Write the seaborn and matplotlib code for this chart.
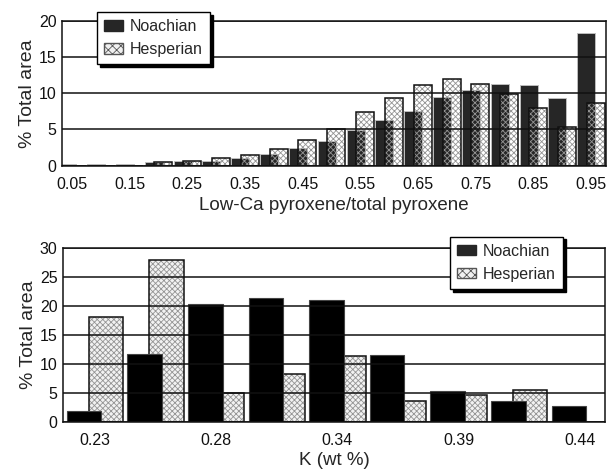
import numpy as np
import pandas as pd
import matplotlib
matplotlib.use("Agg")
import matplotlib.pyplot as plt
import seaborn as sns
from matplotlib.patches import Patch

# ---------------- data ----------------
pyx_bins = [0.05, 0.10, 0.15, 0.20, 0.25, 0.30, 0.35, 0.40, 0.45, 0.50,
            0.55, 0.60, 0.65, 0.70, 0.75, 0.80, 0.85, 0.90, 0.95]
pyx_noachian = [0.25, 0.25, 0.25, 0.5, 0.65, 0.65, 1.1, 1.6, 2.5, 3.4,
                4.9, 6.3, 7.6, 9.5, 10.5, 11.25, 11.1, 9.3, 18.25]
pyx_hesperian = [0.0, 0.0, 0.0, 0.5, 0.7, 1.0, 1.45, 2.3, 3.6, 5.0,
                 7.4, 9.4, 11.1, 11.9, 11.2, 9.9, 8.0, 5.4, 8.7]
pyx_tick_values = [0.05, 0.15, 0.25, 0.35, 0.45, 0.55, 0.65, 0.75, 0.85, 0.95]
pyx_tick_labels = ["0.05", "0.15", "0.25", "0.35", "0.45",
                   "0.55", "0.65", "0.75", "0.85", "0.95"]

k_bins = ["0.23", "0.255", "0.28", "0.31", "0.34", "0.365", "0.39", "0.415", "0.44"]
k_noachian = [1.9, 11.7, 20.3, 21.4, 21.0, 11.6, 5.3, 3.6, 2.7]
k_hesperian = [18.1, 28.0, 5.0, 8.3, 11.4, 3.5, 4.6, 5.5, 0.0]
k_tick_labels = ["0.23", "0.28", "0.34", "0.39", "0.44"]

series_names = ["Noachian", "Hesperian"]

# ---------------- style ----------------
sns.set_theme(style="white")
plt.rcParams["font.family"] = ["Liberation Sans", "DejaVu Sans"]
plt.rcParams["hatch.linewidth"] = 0.6

TICK_FS = 11.5
XLABEL_FS = 13.5
YLABEL_FS = 14
LEG_FS = 11.5
HATCH = "xxxxxx"
HATCH_GRAY = "#949494"

W, H = 607, 469
fig = plt.figure(figsize=(W / 100, H / 100), dpi=100)
ax1 = fig.add_axes([62 / W, 1 - 165.7 / H, (606 - 62) / W, (165.7 - 20.7) / H])
ax2 = fig.add_axes([63 / W, 1 - 421.5 / H, (605 - 63) / W, (421.5 - 248.3) / H])

# ---------------- top panel ----------------
off1 = 0.00824
top_n = pd.DataFrame({"pos": np.array(pyx_bins) - off1, "val": pyx_noachian})
top_h = pd.DataFrame({"pos": np.array(pyx_bins) + off1, "val": pyx_hesperian})

sns.barplot(data=top_n, x="pos", y="val", native_scale=True, orient="x", ax=ax1,
            width=0.62, errorbar=None, color="#262626", saturation=1,
            edgecolor="#bdbdbd", linewidth=0.7)
sns.barplot(data=top_h, x="pos", y="val", native_scale=True, orient="x", ax=ax1,
            width=0.62, errorbar=None, color="white", saturation=1,
            facecolor="none", edgecolor=HATCH_GRAY, linewidth=0, hatch=HATCH)
sns.barplot(data=top_h, x="pos", y="val", native_scale=True, orient="x", ax=ax1,
            width=0.62, errorbar=None, color="black", saturation=1,
            facecolor="none", edgecolor="#111111", linewidth=1.1)

ax1.set_xlim(0.0327, 0.976)
ax1.set_ylim(0, 20)
ax1.set_yticks([0, 5, 10, 15, 20])
ax1.set_xticks(pyx_tick_values)
ax1.set_xticklabels(pyx_tick_labels)
ax1.set_xlabel("Low-Ca pyroxene/total pyroxene", fontsize=XLABEL_FS, labelpad=4)
ax1.set_ylabel("% Total area", fontsize=YLABEL_FS, labelpad=2)

# ---------------- bottom panel ----------------
idx = np.arange(len(k_bins))
off2 = 0.18
bot_n = pd.DataFrame({"pos": idx - off2, "val": k_noachian})
bot_h = pd.DataFrame({"pos": idx + off2, "val": k_hesperian})

sns.barplot(data=bot_h, x="pos", y="val", native_scale=True, orient="x", ax=ax2,
            width=0.57, errorbar=None, color="#f2f2f2", saturation=1,
            edgecolor=HATCH_GRAY, linewidth=0, hatch=HATCH)
sns.barplot(data=bot_h, x="pos", y="val", native_scale=True, orient="x", ax=ax2,
            width=0.57, errorbar=None, color="black", saturation=1,
            facecolor="none", edgecolor="#111111", linewidth=1.1)
sns.barplot(data=bot_n, x="pos", y="val", native_scale=True, orient="x", ax=ax2,
            width=0.57, errorbar=None, color="black", saturation=1,
            edgecolor="#444444", linewidth=0.8)

ax2.set_xlim(-0.528, 8.416)
ax2.set_ylim(0, 30)
ax2.set_yticks([0, 5, 10, 15, 20, 25, 30])
ax2.set_xticks(idx[::2])
ax2.set_xticklabels(k_tick_labels)
ax2.set_xlabel("K (wt %)", fontsize=XLABEL_FS, labelpad=3)
ax2.set_ylabel("% Total area", fontsize=YLABEL_FS, labelpad=2)

# ---------------- common styling ----------------
for ax in (ax1, ax2):
    ax.set_axisbelow(False)
    ax.yaxis.grid(True, color="#111111", linewidth=1.1)
    ax.xaxis.grid(False)
    ax.tick_params(axis="both", length=0, labelsize=TICK_FS, colors="#111111")
    ax.tick_params(axis="x", pad=8)
    ax.tick_params(axis="y", pad=4)
    for s in ax.spines.values():
        s.set_visible(True)
        s.set_color("#111111")
        s.set_linewidth(1.1)

handles = [
    Patch(facecolor="#262626", edgecolor="#262626", label=series_names[0]),
    Patch(facecolor="#f0f0f0", edgecolor="#555555", hatch="xxxx", label=series_names[1]),
]

for ax, anchor in ((ax1, (97 / W, 1 - 12 / H)), (ax2, (450 / W, 1 - 236.7 / H))):
    leg = ax.legend(handles=handles, loc="upper left", bbox_to_anchor=anchor,
                    bbox_transform=fig.transFigure, borderaxespad=0,
                    fontsize=LEG_FS, frameon=True, fancybox=False,
                    shadow={"color": "black", "alpha": 1},
                    handlelength=1.2, handleheight=0.6, handletextpad=0.4,
                    labelspacing=0.5, borderpad=0.45, framealpha=1)
    leg.get_frame().set_edgecolor("black")
    leg.get_frame().set_linewidth(1.0)
    leg.set_zorder(10)

fig.savefig("out.png", dpi=100)
